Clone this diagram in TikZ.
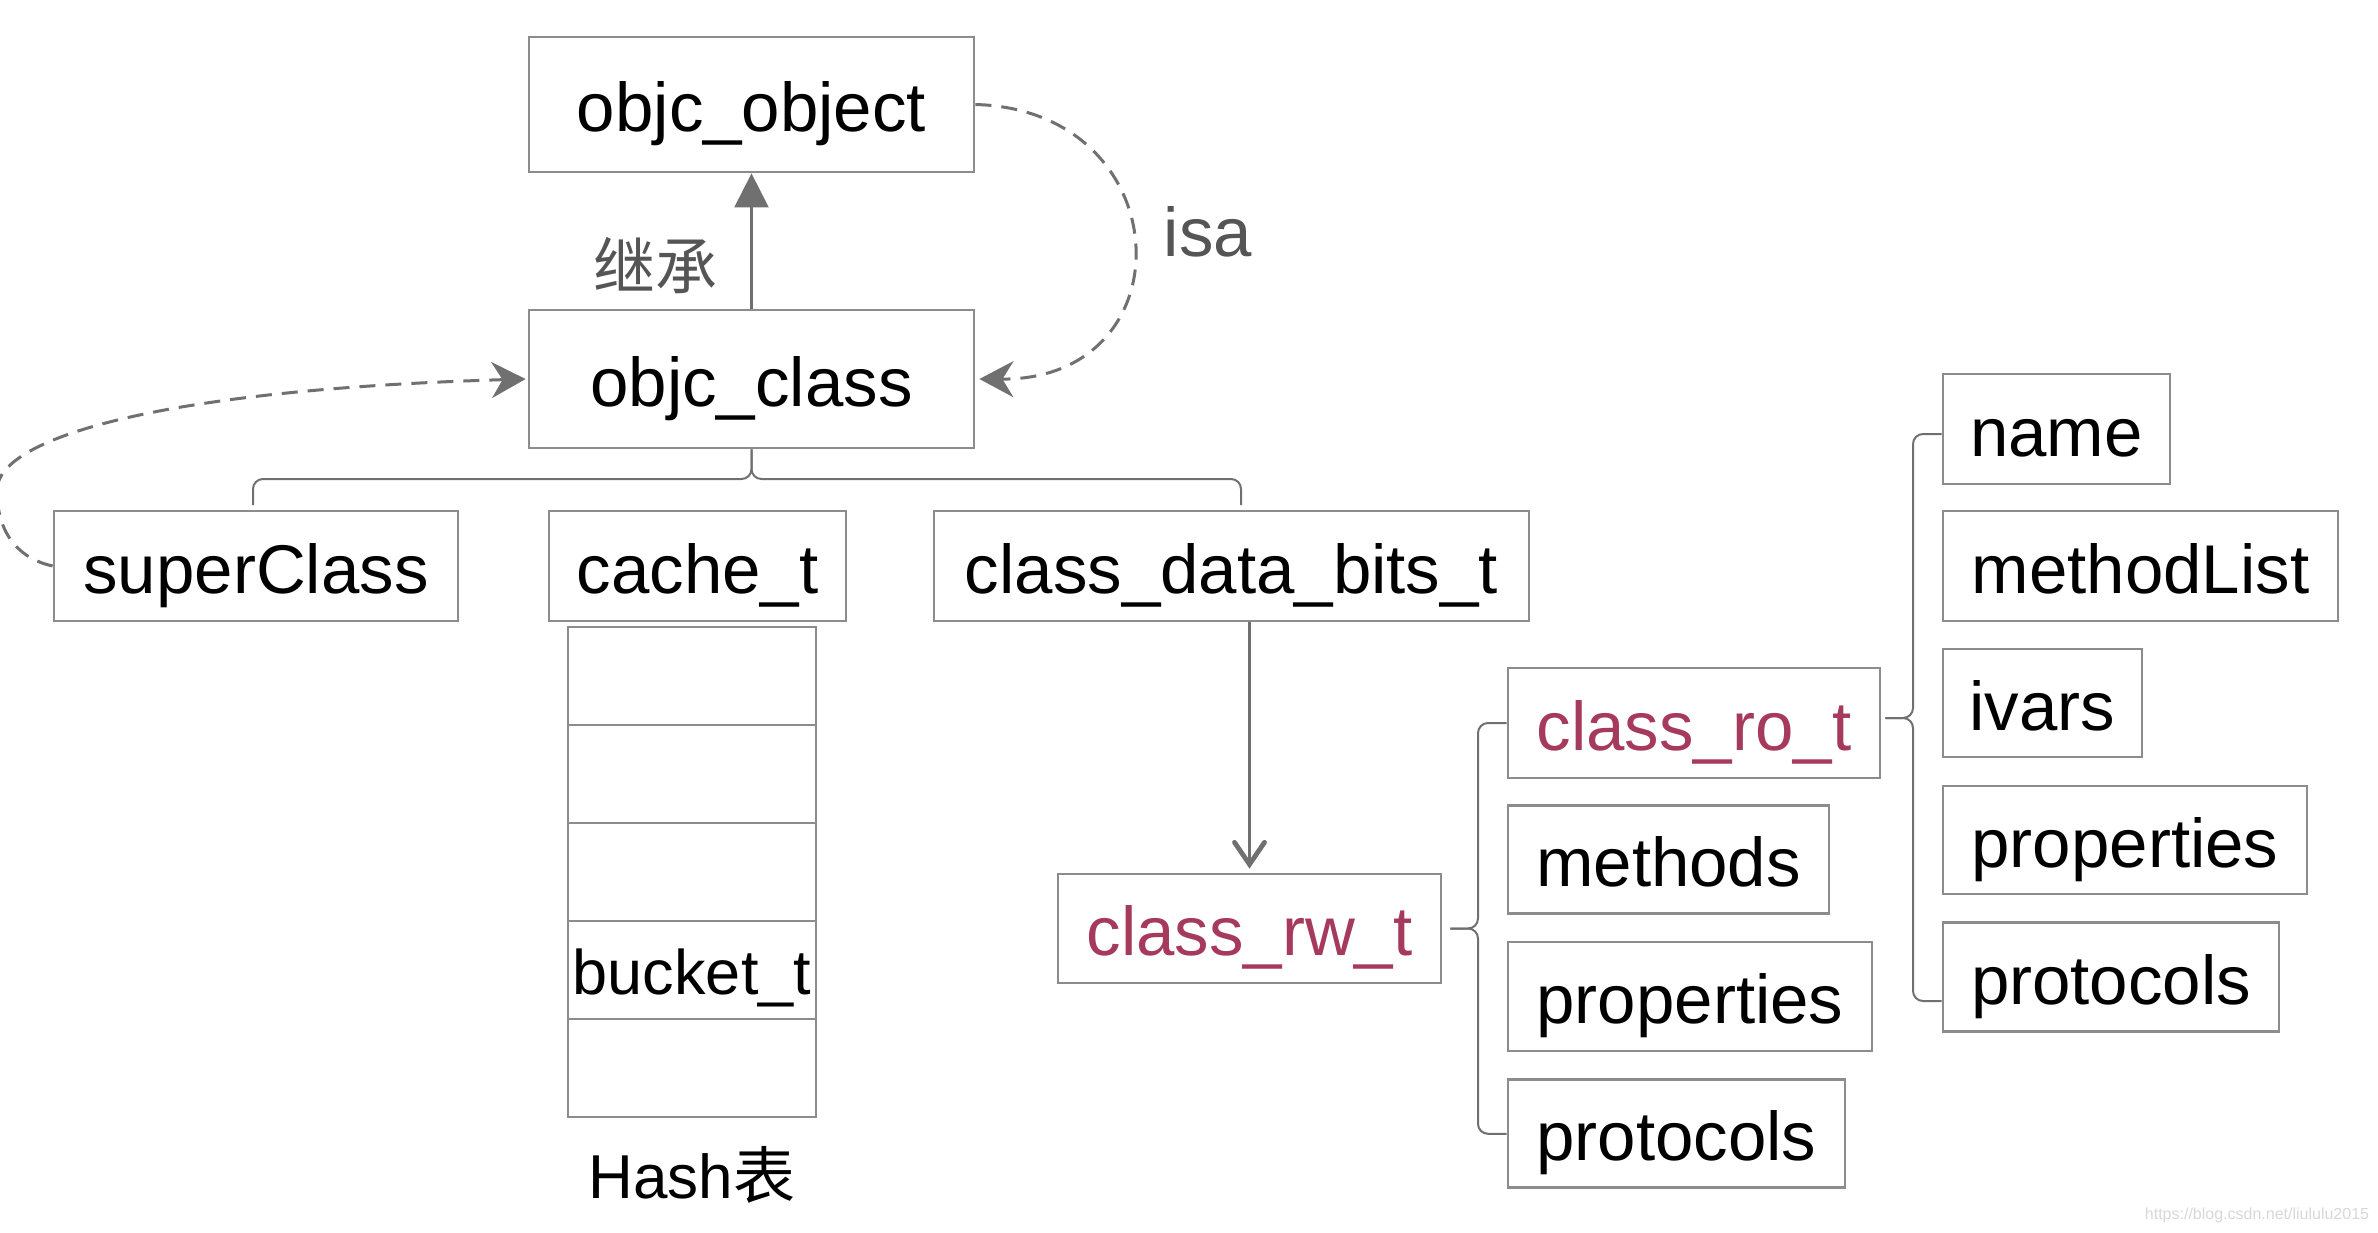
\documentclass[tikz,border=0pt]{standalone}
\usepackage{fontspec}
\setmainfont{Liberation Sans}
\newfontfamily\cjk{Noto Sans CJK SC}
\usetikzlibrary{arrows.meta,calc}
\definecolor{boxgray}{HTML}{8C8C8C}
\definecolor{linegray}{HTML}{707070}
\definecolor{labgray}{HTML}{555555}
\definecolor{crim}{HTML}{A63A5C}
\definecolor{wmgray}{HTML}{D8D8D8}
\tikzset{
  sz/.style 2 args={minimum width={#1*0.5pt},minimum height={#2*0.5pt}},
  bx/.style={draw=boxgray, line width=1.4pt, inner sep=0pt, text=black,
    font=\fontsize{34.5}{40}\selectfont, text height=31pt, text depth=4pt},
  rd/.style={text=crim},
  cell/.style={draw=boxgray, line width=1.4pt, inner sep=0pt, sz={248}{98},
    font=\fontsize{31.5}{36}\selectfont, text height=27pt, text depth=3pt},
  lab/.style={inner sep=0pt, text=labgray, font=\fontsize{34.5}{40}\selectfont},
  conn/.style={draw=linegray, line width=1.2pt},
  dsh/.style={draw=linegray, line width=1.5pt, dash pattern=on 8pt off 5pt},
  brk/.style={draw=linegray, line width=1pt, rounded corners=5pt},
  dtip/.style={-{Stealth[length=17pt,width=18pt,inset=5.5pt,fill=linegray]}},
  vtip/.style={-{Straight Barb[length=11pt,width=15pt,line width=2.4pt,line cap=round]}},
}
\begin{document}
\begin{tikzpicture}[x=0.5pt,y=-0.5pt]
\fill[white] (0,0) rectangle (2378,1232);
\useasboundingbox (0,0) rectangle (2378,1232);

% top boxes
\node[bx, sz={445}{135}] (obj) at (751.5,104.5) {objc\_object};
\node[bx, sz={445}{138}] (cls) at (751.5,379) {objc\_class};

% second row
\node[bx, sz={404}{110}] (sup) at (256,566) {superClass};
\node[bx, sz={297}{110}] (cache) at (697.5,566) {cache\_t};
\node[bx, sz={595}{110}] (bits) at (1231.5,566) {class\_data\_bits\_t};

% hash table
\node[cell] (h1) at (692,676) {};
\node[cell] (h2) at (692,774) {};
\node[cell] (h3) at (692,872) {};
\node[cell] (h4) at (692,970) {bucket\_t};
\node[cell] (h5) at (692,1068) {};
\node[inner sep=0pt, font=\fontsize{31}{36}\selectfont] (hashlab) at (692,1175) {Hash{\cjk 表}};

% class_rw_t and its members
\node[bx, rd, sz={383}{109}] (rw) at (1249.5,928.5) {class\_rw\_t};
\node[bx, rd, sz={372}{110}] (ro) at (1694,723) {class\_ro\_t};
\node[bx, sz={321}{108}] (meth) at (1668.5,859.6) {methods};
\node[bx, sz={364}{109}] (rwprop) at (1690,996.5) {properties};
\node[bx, sz={337}{108}] (rwprot) at (1676.5,1133.8) {protocols};

% class_ro_t members
\node[bx, sz={227}{110}] (name) at (2056.5,429) {name};
\node[bx, sz={395}{110}] (mlist) at (2140.5,566) {methodList};
\node[bx, sz={199}{108}] (ivars) at (2042.5,703) {ivars};
\node[bx, sz={364}{108}] (roprop) at (2125,840) {properties};
\node[bx, sz={336}{109}] (roprot) at (2111,977) {protocols};

% labels
\node[lab, font=\cjk\fontsize{31}{36}\selectfont] (inh) at (655,266) {继承};
\node[lab] (isa) at (1208,232) {isa};
\node[inner sep=0pt, text=wmgray, font=\fontsize{8}{9}\selectfont] (wm) at (2257,1215) {https://blog.csdn.net/liululu2015};

% inheritance arrow
\draw[conn, -{Triangle[length=17pt,width=17pt]}] (cls.north) -- (obj.south);

% isa dashed arrow
\coordinate (isaend) at ($(cls.east)+(4,0)$);
\draw[dsh, dtip]
  (obj.east) .. controls (1180,110) and (1190,380) .. (isaend);

% superClass dashed arrow
\coordinate (supmid) at (-3,490);
\coordinate (supend) at ($(cls.west)+(-2,0)$);
\draw[dsh, dtip]
  (sup.west) .. controls (25,560) and (-3,540) .. (supmid)
  .. controls (-3,440) and (150,390) .. (supend);

% brace under objc_class
\coordinate (bL) at (253,505);
\coordinate (bR) at (1241,505);
\draw[brk] (bL) -- (253,479) -- (751.5,479) -- (cls.south);
\draw[brk] (bR) -- (1241,479) -- (751.5,479) -- (cls.south);

% arrow class_data_bits_t -> class_rw_t
\coordinate (rwin) at ($(rw.north)+(0,-4)$);
\draw[conn, vtip] (rw.north |- bits.south) -- (rwin);

% bracket class_rw_t
\coordinate (rwtip) at ($(rw.east)+(8,0)$);
\draw[brk] (ro.west) -- (1478,723) -- (1478,928.5) -- (rwtip);
\draw[brk] (rwprot.west) -- (1478,1133.8) -- (1478,928.5) -- (rwtip);

% bracket class_ro_t
\coordinate (roT) at ($(name.west)+(0,5)$);
\coordinate (roB) at ($(roprot.west)+(0,24)$);
\coordinate (rotip) at ($(ro.east)+(4,-5)$);
\draw[brk] (roT) -- (1913,434) -- (1913,718) -- (rotip);
\draw[brk] (roB) -- (1913,1001) -- (1913,718) -- (rotip);
\end{tikzpicture}
\end{document}
